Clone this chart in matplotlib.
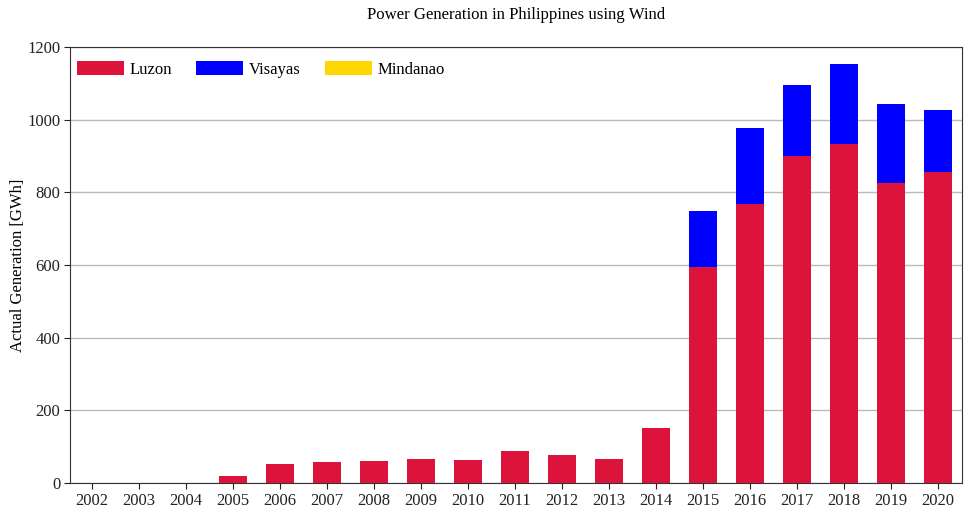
import matplotlib
matplotlib.use("Agg")
import matplotlib.pyplot as plt
import numpy as np

years = [str(y) for y in range(2002, 2021)]
luzon = [0, 0, 0, 19, 52, 58, 61, 66, 63, 88, 77, 66, 152, 593, 767, 899, 932, 826, 856]
visayas = [0, 0, 0, 0, 0, 0, 0, 0, 0, 0, 0, 0, 0, 155, 209, 196, 221, 217, 170]
mindanao = [0] * 19

plt.rcParams['font.family'] = ['Liberation Serif']
plt.rcParams['font.size'] = 12

fig = plt.figure(figsize=(9.69, 5.12), dpi=100)
ax = fig.add_axes([70/969, 1-482.8/512, 892/969, (482.8-47)/512])

x = np.arange(len(years))
w = 0.6
l = np.array(luzon); v = np.array(visayas); m = np.array(mindanao)
ax.bar(x, l, w, color='#DC143C', label='Luzon', zorder=3)
ax.bar(x, v, w, bottom=l, color='#0000FF', label='Visayas', zorder=3)
ax.bar(x, m, w, bottom=l+v, color='#FFD700', label='Mindanao', zorder=3)

ax.set_xticks(x)
ax.set_xticklabels(years)
ax.set_xlim(-0.47, 18.51)
ax.set_ylim(0, 1200)
ax.set_yticks(range(0, 1201, 200))
ax.yaxis.grid(True, color='#BBBBBB', linewidth=1, zorder=0)
ax.set_axisbelow(True)
for s in ax.spines.values():
    s.set_color('#333333')
ax.tick_params(colors='#222222', direction='out', length=4, pad=3)
ax.set_ylabel('Actual Generation [GWh]', labelpad=1)
ax.set_title('Power Generation in Philippines using Wind', pad=20, fontsize=12.1)
ax.legend(loc='upper left', bbox_to_anchor=(2/892, 1 - 9/435.8), ncol=3, frameon=False,
          handlelength=2.8, handleheight=0.95, handletextpad=0.36, columnspacing=1.45,
          borderaxespad=0, borderpad=0.3)

fig.savefig('out.png', dpi=100)
